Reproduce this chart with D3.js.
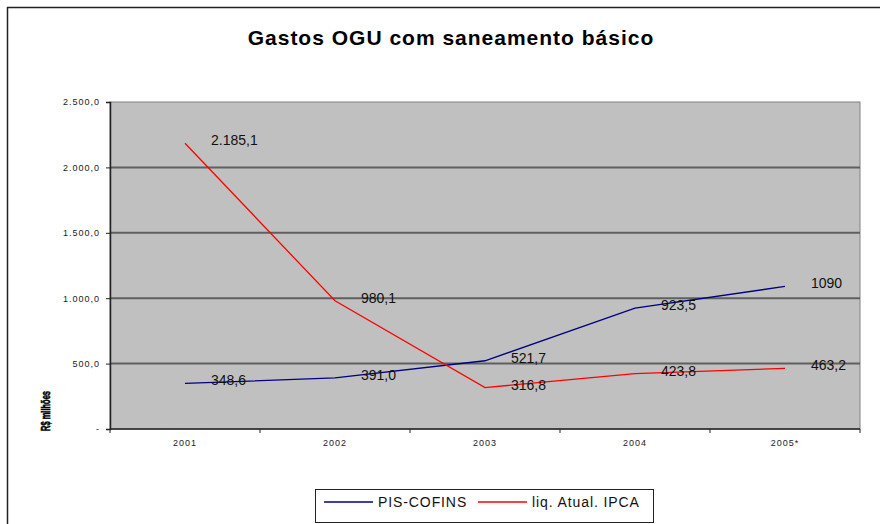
<!DOCTYPE html>
<html>
<head>
<meta charset="utf-8">
<script src="https://cdn.jsdelivr.net/npm/d3@7"></script>
<style>
  html,body{margin:0;padding:0;background:#fff}
  svg{display:block}
  text{font-family:"Liberation Sans", Arial, sans-serif}
</style>
</head>
<body>
<div id="chart"></div>
<script>
const years = ['2001','2002','2003','2004','2005*'];
const pisCofins = [348.6, 391.0, 521.7, 923.5, 1090];
const pisLabels = ['348,6','391,0','521,7','923,5','1090'];
const ipca = [2185.1, 980.1, 316.8, 423.8, 463.2];
const ipcaLabels = ['2.185,1','980,1','316,8','423,8','463,2'];
const yTicks = [0, 500, 1000, 1500, 2000, 2500];
const yTickLabels = ['-', '500,0', '1.000,0', '1.500,0', '2.000,0', '2.500,0'];
const seriesNames = ['PIS-COFINS', 'liq. Atual. IPCA'];
const seriesColors = ['#000080', '#ff0000'];

const W = 880, H = 524;
const plot = {l:110, r:860, t:102, b:429};

const svg = d3.select('#chart').append('svg').attr('width', W).attr('height', H);
svg.append('rect').attr('width', W).attr('height', H).attr('fill', '#fff');

// outer chart frame (runs off the right and bottom edges)
svg.append('rect').attr('x', 7.5).attr('y', 7.5).attr('width', 1000).attr('height', 1000)
  .attr('fill', 'none').attr('stroke', '#222').attr('stroke-width', 1.5);

// title
svg.append('text').attr('x', 451).attr('y', 45)
  .attr('text-anchor', 'middle').attr('font-size', '21px').attr('font-weight', 'bold')
  .attr('letter-spacing', '1px').attr('fill', '#000').text('Gastos OGU com saneamento básico');

const x = d3.scaleBand().domain(years).range([plot.l, plot.r]).padding(0);
const y = d3.scaleLinear().domain([0, 2500]).range([plot.b, plot.t]);
const cx = d => x(d) + x.bandwidth() / 2;

// plot area
svg.append('rect').attr('x', plot.l).attr('y', plot.t)
  .attr('width', plot.r - plot.l).attr('height', plot.b - plot.t)
  .attr('fill', '#c0c0c0').attr('stroke', '#808080').attr('stroke-width', 1);

// gridlines
svg.append('g').selectAll('line').data(yTicks.filter(v => v > 0 && v < 2500)).join('line')
  .attr('x1', plot.l).attr('x2', plot.r)
  .attr('y1', d => y(d)).attr('y2', d => y(d))
  .attr('stroke', '#5f5f5f').attr('stroke-width', 2);

// y axis
const yAxis = d3.axisLeft(y).tickValues(yTicks).tickSize(4).tickPadding(6)
  .tickFormat((d, i) => yTickLabels[i]);
const gy = svg.append('g').attr('transform', `translate(${plot.l},0)`).call(yAxis);
gy.select('.domain').attr('stroke', '#222').attr('stroke-width', 1.5);
gy.selectAll('.tick line').attr('stroke', '#222');
gy.selectAll('.tick text').attr('font-size', '9px').attr('letter-spacing', '1px')
  .attr('fill', '#222').attr('font-family', '"Liberation Sans", Arial, sans-serif');

// x axis: ticks on category boundaries
const gx = svg.append('g').attr('transform', `translate(0,${plot.b})`);
gx.append('line').attr('x1', plot.l).attr('x2', plot.r).attr('stroke', '#222').attr('stroke-width', 1.5);
gx.selectAll('line.tk').data(years.concat(['end'])).join('line').attr('class', 'tk')
  .attr('x1', (d, i) => i < years.length ? x(d) : plot.r)
  .attr('x2', (d, i) => i < years.length ? x(d) : plot.r)
  .attr('y1', 0).attr('y2', 4).attr('stroke', '#222');
gx.selectAll('text').data(years).join('text')
  .attr('x', d => cx(d)).attr('y', 17).attr('text-anchor', 'middle')
  .attr('font-size', '9px').attr('letter-spacing', '1px').attr('fill', '#222').text(d => d);

// y axis title (squeezed and heavy, as in the original)
svg.append('text').attr('transform', 'translate(50,411) rotate(-90)')
  .attr('text-anchor', 'middle').attr('font-size', '13px').attr('font-weight', 'bold')
  .attr('stroke', '#000').attr('stroke-width', 0.6)
  .attr('textLength', 40).attr('lengthAdjust', 'spacingAndGlyphs')
  .attr('fill', '#000').text('R$ milhões');

// lines + labels
const line = d3.line().x((d, i) => cx(years[i])).y(d => y(d));
[[pisCofins, pisLabels], [ipca, ipcaLabels]].forEach(([vals, labs], s) => {
  svg.append('path').datum(vals).attr('d', line)
    .attr('fill', 'none').attr('stroke', seriesColors[s]).attr('stroke-width', 1.3);
  svg.append('g').selectAll('text').data(vals).join('text')
    .attr('x', (d, i) => cx(years[i]) + 26).attr('y', d => y(d) + 2)
    .attr('font-size', '14px').attr('fill', '#111')
    .text((d, i) => labs[i]);
});

// legend
const lg = svg.append('g');
lg.append('rect').attr('x', 315.5).attr('y', 489.5).attr('width', 338).attr('height', 33)
  .attr('fill', '#fff').attr('stroke', '#222').attr('stroke-width', 1);
const legendPos = [[324, 378], [478, 532]];
seriesNames.forEach((n, i) => {
  lg.append('line').attr('x1', legendPos[i][0]).attr('x2', legendPos[i][0] + 49)
    .attr('y1', 502).attr('y2', 502).attr('stroke', seriesColors[i]).attr('stroke-width', 1.3);
  lg.append('text').attr('x', legendPos[i][1]).attr('y', 507)
    .attr('font-size', '14px').attr('letter-spacing', '0.9px').attr('fill', '#111').text(n);
});
</script>
</body>
</html>
